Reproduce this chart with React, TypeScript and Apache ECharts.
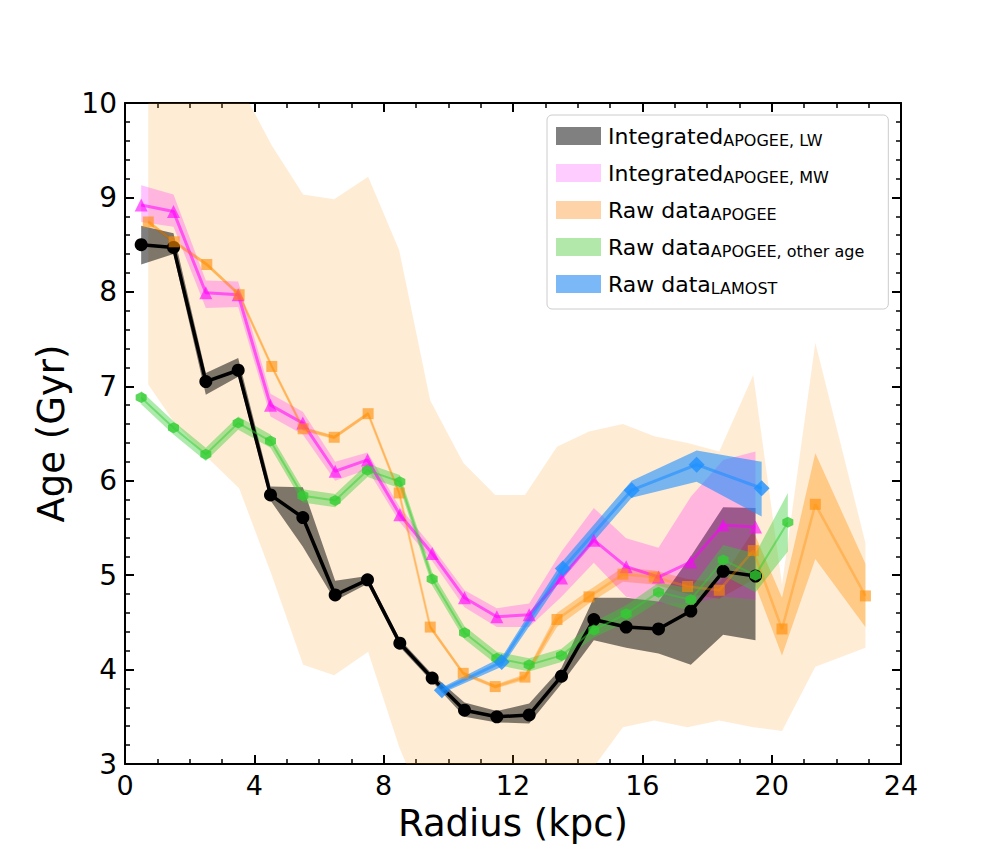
import { useEffect, useRef } from "react";
import * as echarts from "echarts";

const FONT = "DejaVu Sans";

// integrated profiles (bin centres)
const R_INT = [0.5, 1.5, 2.5, 3.5, 4.5, 5.5, 6.5, 7.5, 8.5, 9.5, 10.5, 11.5, 12.5, 13.5, 14.5, 15.5, 16.5, 17.5, 18.5, 19.5];
const LW = [8.5, 8.47, 7.05, 7.17, 5.85, 5.61, 4.79, 4.95, 4.28, 3.91, 3.57, 3.5, 3.52, 3.93, 4.53, 4.45, 4.43, 4.62, 5.04, 4.99];
const LW_LO = [8.29, 8.4, 6.91, 7.1, 5.79, 5.3, 4.73, 4.91, 4.24, 3.87, 3.5, 3.44, 3.43, 3.85, 4.31, 4.23, 4.17, 4.05, 4.37, 4.31];
const LW_HI = [8.7, 8.62, 7.14, 7.3, 5.94, 5.93, 4.94, 4.99, 4.32, 3.95, 3.65, 3.56, 3.64, 4.02, 4.76, 4.76, 4.72, 5.2, 5.72, 5.71];

const MW = [8.92, 8.85, 7.99, 7.97, 6.8, 6.61, 6.1, 6.22, 5.64, 5.23, 4.76, 4.56, 4.58, 4.97, 5.37, 5.09, 4.98, 5.14, 5.53, 5.51];
const MW_LO = [8.74, 8.69, 7.83, 7.84, 6.68, 6.49, 6.0, 6.12, 5.56, 5.15, 4.66, 4.45, 4.45, 4.77, 5.13, 4.77, 4.7, 4.7, 4.77, 4.74];
const MW_HI = [9.13, 9.03, 8.12, 8.11, 6.92, 6.73, 6.2, 6.3, 5.72, 5.3, 4.84, 4.65, 4.7, 5.25, 5.71, 5.39, 5.29, 5.83, 6.22, 6.31];

// raw APOGEE
const R_RAW = [0.72, 1.52, 2.53, 3.53, 4.54, 5.51, 6.47, 7.52, 8.48, 9.44, 10.46, 11.45, 12.37, 13.36, 14.35, 15.4, 16.37, 17.4, 18.38, 19.43, 20.32, 21.35, 22.9];
const RAW = [8.74, 8.53, 8.29, 7.97, 7.21, 6.55, 6.46, 6.71, 5.87, 4.45, 3.96, 3.82, 3.92, 4.53, 4.77, 5.01, 4.98, 4.88, 4.84, 5.26, 4.43, 5.75, 4.78];
const RAW_LO = [8.72, 8.51, 8.27, 7.95, 7.19, 6.53, 6.44, 6.69, 5.85, 4.43, 3.94, 3.8, 3.89, 4.45, 4.7, 4.93, 4.9, 4.8, 4.75, 4.95, 4.15, 5.17, 4.45];
const RAW_HI = [8.76, 8.55, 8.31, 7.99, 7.23, 6.57, 6.48, 6.73, 5.89, 4.47, 3.98, 3.84, 3.95, 4.6, 4.84, 5.08, 5.05, 4.96, 4.92, 5.47, 4.76, 6.29, 5.12];
const RAW_SD_LO = [7.02, 6.62, 6.25, 5.92, 5.0, 4.05, 3.94, 4.19, 3.18, 2.39, 2.0, 2.0, 2.2, 2.6, 2.9, 3.39, 3.46, 3.39, 3.46, 3.39, 3.35, 4.03, 4.23];
const RAW_SD_HI = [10.6, 10.8, 10.5, 10.2, 9.55, 9.03, 8.98, 9.22, 8.44, 6.85, 6.19, 5.85, 5.85, 6.36, 6.52, 6.6, 6.47, 6.4, 6.31, 7.12, 4.9, 7.46, 5.34];

// raw APOGEE, other age
const R_OTHER = [0.5, 1.5, 2.5, 3.5, 4.5, 5.5, 6.5, 7.5, 8.5, 9.5, 10.5, 11.5, 12.5, 13.5, 14.5, 15.5, 16.5, 17.5, 18.5, 19.5, 20.5];
const OTHER = [6.88, 6.56, 6.28, 6.61, 6.42, 5.84, 5.79, 6.11, 5.99, 4.96, 4.39, 4.12, 4.05, 4.15, 4.42, 4.59, 4.82, 4.74, 5.16, 5.0, 5.56];
const OTHER_LO = [6.81, 6.49, 6.21, 6.54, 6.35, 5.77, 5.72, 6.04, 5.92, 4.89, 4.32, 4.05, 3.98, 4.08, 4.34, 4.5, 4.72, 4.62, 5.0, 4.82, 5.25];
const OTHER_HI = [6.95, 6.63, 6.35, 6.68, 6.49, 5.91, 5.86, 6.18, 6.06, 5.03, 4.46, 4.19, 4.12, 4.22, 4.5, 4.68, 4.92, 4.86, 5.32, 5.23, 5.87];

// LAMOST
const R_LAM = [9.8, 11.65, 13.54, 15.67, 17.68, 19.69];
const LAM = [3.78, 4.08, 5.07, 5.9, 6.17, 5.92];
const LAM_LO = [3.75, 4.03, 4.98, 5.82, 5.99, 5.62];
const LAM_HI = [3.81, 4.13, 5.15, 6.0, 6.32, 6.2];

const HEX = "path://M0,-1L0.866,-0.5L0.866,0.5L0,1L-0.866,0.5L-0.866,-0.5Z";

const LEGEND_LABELS: Record<string, string> = {
  lw: "{m|Integrated}{s|APOGEE, LW}",
  mw: "{m|Integrated}{s|APOGEE, MW}",
  raw: "{m|Raw data}{s|APOGEE}",
  other: "{m|Raw data}{s|APOGEE, other age}",
  lamost: "{m|Raw data}{s|LAMOST}",
};

function band(name: string, xs: number[], lo: number[], hi: number[], fill: string) {
  return {
    type: "custom",
    name,
    silent: true,
    data: xs.map((x, i) => [x, lo[i], hi[i]]),
    encode: { x: 0, y: [1, 2] },
    renderItem: (params: any, api: any) => {
      if (params.dataIndex !== 0) return null;
      const top = xs.map((x, i) => api.coord([x, hi[i]]));
      const bottom = xs.map((x, i) => api.coord([x, lo[i]])).reverse();
      const cs = params.coordSys;
      return {
        type: "polygon",
        shape: { points: top.concat(bottom) },
        style: { fill },
        clipPath: { type: "rect", shape: { x: cs.x, y: cs.y, width: cs.width, height: cs.height } },
      };
    },
  };
}

function line(name: string, xs: number[], ys: number[], symbol: string, size: number, marker: string, stroke: string, width: number) {
  return {
    type: "line",
    name,
    data: xs.map((x, i) => [x, ys[i]]),
    symbol,
    symbolSize: size,
    showSymbol: true,
    itemStyle: { color: marker },
    lineStyle: { color: stroke, width },
    emphasis: { disabled: true },
  };
}

const axisCommon = {
  type: "value",
  axisLine: { show: true, onZero: false, lineStyle: { color: "#000", width: 2 } },
  axisTick: { show: true, inside: true, length: 9, lineStyle: { color: "#000", width: 2 } },
  minorTick: { show: true, length: 5, lineStyle: { color: "#000", width: 1.5 } },
  splitLine: { show: false },
  minorSplitLine: { show: false },
};

export default function App() {
  const ref = useRef<HTMLDivElement | null>(null);

  useEffect(() => {
    if (!ref.current) return;
    const chart = echarts.init(ref.current, null, { renderer: "svg" });

    chart.setOption({
      animation: false,
      textStyle: { fontFamily: FONT },
      grid: { left: 125, right: 99, top: 103, bottom: 93 },
      xAxis: [
        {
          ...axisCommon,
          position: "bottom",
          min: 0,
          max: 24,
          interval: 4,
          minorTick: { ...axisCommon.minorTick, splitNumber: 4 },
          axisLabel: { fontSize: 27, color: "#000", margin: 8, fontFamily: FONT },
          name: "Radius (kpc)",
          nameLocation: "middle",
          nameGap: 41,
          nameTextStyle: { fontSize: 37, color: "#000", fontFamily: FONT },
        },
        {
          ...axisCommon,
          position: "top",
          min: 0,
          max: 24,
          interval: 4,
          minorTick: { ...axisCommon.minorTick, splitNumber: 4 },
          axisLabel: { show: false },
        },
      ],
      yAxis: [
        {
          ...axisCommon,
          position: "left",
          min: 3,
          max: 10,
          interval: 1,
          minorTick: { ...axisCommon.minorTick, splitNumber: 5 },
          axisLabel: { fontSize: 28, color: "#000", margin: 8, fontFamily: FONT },
          name: "Age (Gyr)",
          nameLocation: "middle",
          nameGap: 52,
          nameRotate: 90,
          nameTextStyle: { fontSize: 37, color: "#000", fontFamily: FONT },
        },
        {
          ...axisCommon,
          position: "right",
          min: 3,
          max: 10,
          interval: 1,
          minorTick: { ...axisCommon.minorTick, splitNumber: 5 },
          axisLabel: { show: false },
        },
      ],
      legend: {
        orient: "vertical",
        left: 547,
        top: 115,
        itemWidth: 45,
        itemHeight: 18,
        itemGap: 14,
        padding: [10, 24, 13, 9],
        backgroundColor: "rgba(255,255,255,0.85)",
        borderColor: "#cccccc",
        borderWidth: 1,
        borderRadius: 5,
        selectedMode: false,
        formatter: (name: string) => LEGEND_LABELS[name] ?? name,
        textStyle: {
          color: "#000",
          fontFamily: FONT,
          rich: {
            m: { fontSize: 22, lineHeight: 24, fontFamily: FONT, color: "#000", padding: [0, 0, 0, 2] },
            s: { fontSize: 16, lineHeight: 11, verticalAlign: "bottom", fontFamily: FONT, color: "#000" },
          },
        },
        data: [
          { name: "lw", icon: "rect", itemStyle: { color: "#808080" } },
          { name: "mw", icon: "rect", itemStyle: { color: "#ffccff" } },
          { name: "raw", icon: "rect", itemStyle: { color: "#ffd3a8" } },
          { name: "other", icon: "rect", itemStyle: { color: "#b2e8aa" } },
          { name: "lamost", icon: "rect", itemStyle: { color: "#7ab8f8" } },
        ],
      },
      series: [
        band("raw-sd", R_RAW, RAW_SD_LO, RAW_SD_HI, "rgba(255,140,0,0.17)"),
        band("raw", R_RAW, RAW_LO, RAW_HI, "rgba(255,140,0,0.37)"),
        band("lw", R_INT, LW_LO, LW_HI, "rgba(0,0,0,0.5)"),
        line("lw-line", R_INT, LW, "circle", 13, "#000", "#000", 3.5),
        band("mw", R_INT, MW_LO, MW_HI, "rgba(255,0,255,0.23)"),
        line("mw-line", R_INT, MW, "triangle", 13, "rgba(255,0,255,0.6)", "rgba(255,0,255,0.55)", 3),
        line("raw-line", R_RAW, RAW, "rect", 11, "rgba(255,140,0,0.6)", "rgba(255,140,0,0.35)", 2.5),
        band("other", R_OTHER, OTHER_LO, OTHER_HI, "rgba(50,205,50,0.4)"),
        line("other-line", R_OTHER, OTHER, HEX, 11, "rgba(50,205,50,0.8)", "rgba(50,205,50,0.5)", 2),
        band("lamost", R_LAM, LAM_LO, LAM_HI, "rgba(30,144,255,0.6)"),
        line("lamost-line", R_LAM, LAM, "diamond", 16, "rgba(30,144,255,0.8)", "rgba(30,144,255,0.6)", 3),
      ],
    });

    return () => chart.dispose();
  }, []);

  return <div ref={ref} style={{ position: "fixed", left: 0, top: 0, width: 1000, height: 857, background: "#fff" }} />;
}
